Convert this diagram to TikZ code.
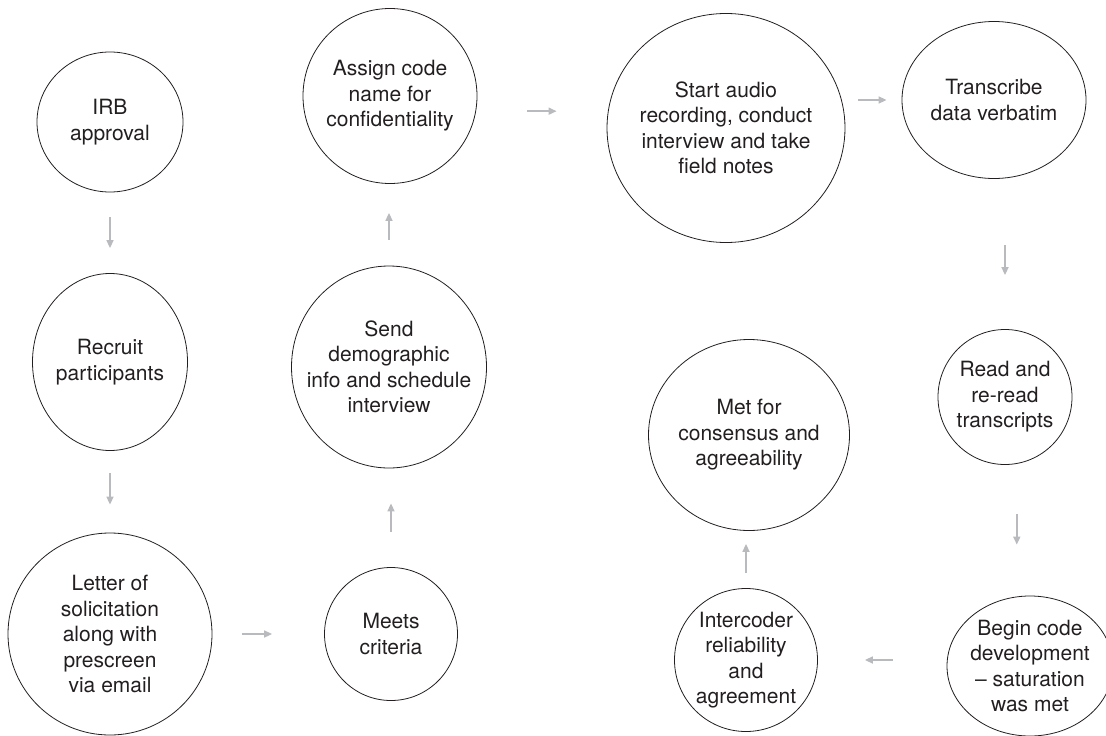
\documentclass[tikz,border=0pt]{standalone}
\usepackage{fontspec}
\setmainfont{TeX Gyre Heros}
\usepackage{tikz}
\usetikzlibrary{arrows.meta,shapes.geometric}
\definecolor{ArrowGray}{RGB}{184,186,189}
\definecolor{InkBlack}{RGB}{35,31,32}
\tikzset{
	stage/.style={ellipse, draw=InkBlack, line width=0.8pt, inner sep=-25pt, align=center, text=InkBlack, font=\fontsize{21}{25.5}\selectfont},
	flow/.style={ArrowGray, line width=1.6pt, -{Triangle[length=8pt,width=7pt]}}
}
\begin{document}
\begin{tikzpicture}[x=1pt, y=-1pt]
	\useasboundingbox (0,0) rectangle (1106,736);
	\node[stage, minimum width=146pt, minimum height=140pt] (irb) at (110,122) {IRB\\approval};
	\node[stage, minimum width=155pt, minimum height=177pt] (recruit) at (110,362) {Recruit\\participants};
	\node[stage, minimum width=204pt, minimum height=202pt] (letter) at (110,634) {Letter of\\solicitation\\along with\\prescreen\\via email};
	\node[stage, minimum width=133pt, minimum height=133pt] (meets) at (391,634) {Meets\\criteria};
	\node[stage, minimum width=195pt, minimum height=202pt] (send) at (389,367) {Send\\demographic\\info and schedule\\interview};
	\node[stage, minimum width=174pt, minimum height=175pt] (assign) at (390,96) {Assign code\\name for\\confidentiality};
	\node[stage, minimum width=238pt, minimum height=229pt] (start) at (726,128) {Start audio\\recording, conduct\\interview and take\\field notes};
	\node[stage, minimum width=184pt, minimum height=157pt] (transcribe) at (994,100) {Transcribe\\data verbatim};
	\node[stage, minimum width=134pt, minimum height=135pt] (read) at (1005,397) {Read and\\re-read\\transcripts};
	\node[stage, minimum width=166pt, minimum height=140pt] (code) at (1030,666) {Begin code\\development\\– saturation\\was met};
	\node[stage, minimum width=143pt, minimum height=143pt] (intercoder) at (746,660) {Intercoder\\reliability\\and\\agreement};
	\node[stage, minimum width=201pt, minimum height=191pt] (met) at (749,435) {Met for\\consensus and\\agreeability};
	\draw[flow, shorten <=25pt, shorten >=25pt] (irb.south) -- (recruit.north);
	\draw[flow, shorten <=22pt, shorten >=28pt] (recruit.south) -- (letter.north);
	\draw[flow, shorten <=30pt, shorten >=52pt] (letter.east) -- (meets.west);
	\draw[flow, shorten <=35pt, shorten >=35pt] (meets.north) -- (meets.north |- send.south);
	\draw[flow, shorten <=26pt, shorten >=29pt] (send.north) -- (send.north |- assign.south);
	\draw[flow, shorten <=51pt, shorten >=50pt] (assign.-10) -- (assign.-10 -| start.west);
	\draw[flow, shorten <=13pt, shorten >=15pt] (transcribe.west -| start.east) -- (transcribe.west);
	\draw[flow, shorten <=66pt, shorten >=54pt] (transcribe.south -| read.north) -- (read.north);
	\draw[flow, shorten <=50pt, shorten >=51pt] (read.-80) -- (read.-80 |- code.north);
	\draw[flow, shorten <=54pt, shorten >=47pt] (intercoder.east -| code.west) -- (intercoder.east);
	\draw[flow, shorten <=15pt, shorten >=13pt] (intercoder.north) -- (intercoder.north |- met.south);
\end{tikzpicture}
\end{document}
